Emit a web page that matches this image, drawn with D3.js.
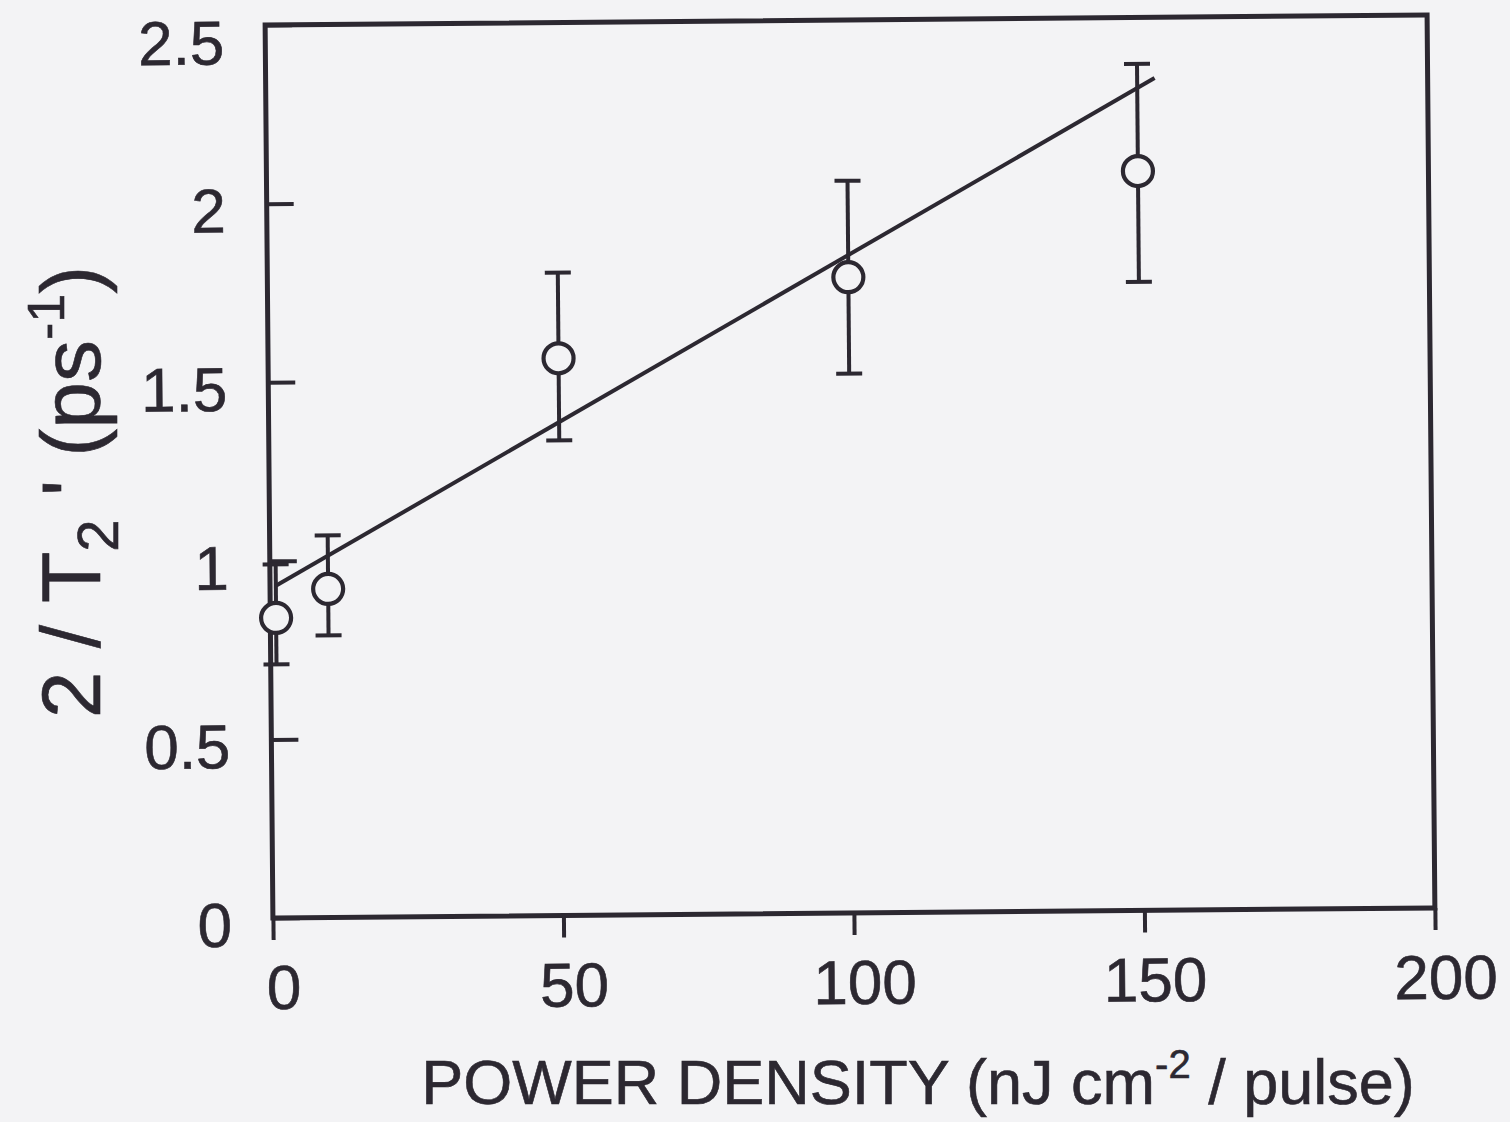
<!DOCTYPE html>
<html>
<head>
<meta charset="utf-8">
<script src="https://cdn.jsdelivr.net/npm/d3@7"></script>
<style>
  html, body { margin: 0; padding: 0; background: #f3f3f5; }
  svg { display: block; }
  text { font-family: "Liberation Sans", Arial, Helvetica, sans-serif; fill: #2c2831; stroke: #2c2831; stroke-width: 0.6px; }
</style>
</head>
<body>
<svg id="chart" width="1510" height="1122"></svg>
<script>
// ---- data ----
const powerDensity = [1, 10, 50, 100, 150];          // nJ cm^-2 / pulse
const rate         = [0.84, 0.92, 1.56, 1.78, 2.07];  // 2/T2' (ps^-1)
const rateLow      = [0.71, 0.79, 1.33, 1.51, 1.76];
const rateHigh     = [0.99, 1.07, 1.80, 2.05, 2.37];
const fitX         = [1, 153];
const fitY         = [0.93, 2.33];
const xTicks       = [0, 50, 100, 150, 200];
const yTicks       = [0, 0.5, 1, 1.5, 2, 2.5];
const yTickLabels  = ["0", "0.5", "1", "1.5", "2", "2.5"];

// ---- layout ----
const W = 1510, H = 1122;
const frame = { left: 269, right: 1431, top: 20, bottom: 913 };
const cx = (frame.left + frame.right) / 2, cy = (frame.top + frame.bottom) / 2;
const ink = "#2c2831", bg = "#f3f3f5";

const svg = d3.select("#chart");
svg.append("rect").attr("width", W).attr("height", H).attr("fill", bg);

const g = svg.append("g").attr("transform", `rotate(-0.5 ${cx} ${cy})`);

const x = d3.scaleLinear().domain([0, 200]).range([frame.left, frame.right]);
const y = d3.scaleLinear().domain([0, 2.5]).range([frame.bottom, frame.top]);

// x axis (ticks outside)
const xAxis = g.append("g")
  .attr("transform", `translate(0,${frame.bottom})`)
  .call(d3.axisBottom(x).tickValues(xTicks).tickSize(22).tickPadding(25).tickFormat(d3.format("d")));
xAxis.select(".domain").remove();
xAxis.selectAll(".tick line").attr("stroke", ink).attr("stroke-width", 4);
xAxis.selectAll(".tick text").attr("font-size", 62).attr("dx", 10).attr("fill", ink);

// y axis (ticks inside)
const yAxis = g.append("g")
  .attr("transform", `translate(${frame.left},0)`)
  .call(d3.axisLeft(y).tickValues(yTicks).tickSize(-27).tickPadding(41)
        .tickFormat((d, i) => yTickLabels[i]));
yAxis.select(".domain").remove();
yAxis.selectAll(".tick line").attr("stroke", ink).attr("stroke-width", 4);
yAxis.selectAll(".tick text").attr("font-size", 62).attr("fill", ink)
  .attr("dy", (d, i) => i === yTicks.length - 1 ? "0.62em" : "0.45em");

// frame
g.append("rect")
  .attr("x", frame.left).attr("y", frame.top)
  .attr("width", frame.right - frame.left).attr("height", frame.bottom - frame.top)
  .attr("fill", "none").attr("stroke", ink).attr("stroke-width", 5);

// fit line
g.append("path")
  .datum(fitX.map((d, i) => [d, fitY[i]]))
  .attr("d", d3.line().x(d => x(d[0])).y(d => y(d[1])))
  .attr("fill", "none").attr("stroke", ink).attr("stroke-width", 4);

// error bars
const pts = powerDensity.map((d, i) => ({ x: d, y: rate[i], lo: rateLow[i], hi: rateHigh[i] }));
const eb = g.append("g").attr("stroke", ink).attr("stroke-width", 4).attr("fill", "none");
eb.selectAll(".v").data(pts).join("line")
  .attr("x1", d => x(d.x)).attr("x2", d => x(d.x))
  .attr("y1", d => y(d.lo)).attr("y2", d => y(d.hi));
eb.selectAll(".ct").data(pts).join("line")
  .attr("x1", d => x(d.x) - 13).attr("x2", d => x(d.x) + 13)
  .attr("y1", d => y(d.hi)).attr("y2", d => y(d.hi));
eb.selectAll(".cb").data(pts).join("line")
  .attr("x1", d => x(d.x) - 13).attr("x2", d => x(d.x) + 13)
  .attr("y1", d => y(d.lo)).attr("y2", d => y(d.lo));

// points (hollow circles)
g.append("g").selectAll("circle").data(pts).join("circle")
  .attr("cx", d => x(d.x)).attr("cy", d => y(d.y)).attr("r", 15)
  .attr("fill", bg).attr("stroke", ink).attr("stroke-width", 4.2);

// x axis title
const xt = svg.append("text")
  .attr("x", 918).attr("y", 1104).attr("text-anchor", "middle")
  .attr("font-size", 63);
xt.append("tspan").text("POWER DENSITY (nJ cm");
xt.append("tspan").attr("font-size", 40).attr("dy", -26).text("-2");
xt.append("tspan").attr("dy", 26).text(" / pulse)");

// y axis title
const yt = svg.append("text")
  .attr("transform", "translate(100,492) rotate(-90)")
  .attr("text-anchor", "middle").attr("font-size", 84);
yt.append("tspan").text("2 / T");
yt.append("tspan").attr("font-size", 58).attr("dy", 18).text("2");
yt.append("tspan").attr("font-size", 84).attr("dy", -18).text(" ' (ps");
yt.append("tspan").attr("font-size", 52).attr("dy", -36).text("-1");
yt.append("tspan").attr("font-size", 84).attr("dy", 36).text(")");
</script>
</body>
</html>
